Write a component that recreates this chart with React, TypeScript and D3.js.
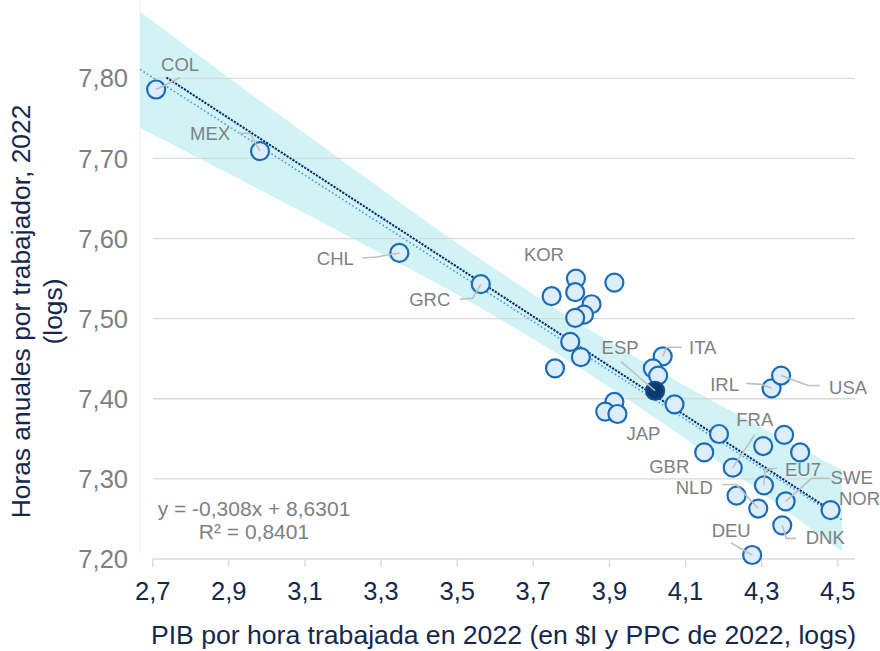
import React from "react";
import * as d3 from "d3";

// ---- data ----
const codes = [
  "COL", "MEX", "CHL", "GRC", "KOR", "", "", "", "", "", "", "", "", "",
  "ITA", "", "", "ESP", "", "", "", "JAP", "IRL", "USA", "", "GBR", "FRA",
  "", "", "", "EU7", "SWE", "NOR", "NLD", "", "DNK", "DEU",
];
const gdpPerHour = [
  2.709, 2.982, 3.348, 3.562, 3.812, 3.913, 3.748, 3.81, 3.853, 3.833, 3.81, 3.797, 3.825, 3.757,
  4.04, 4.014, 4.028, 4.02, 4.071, 3.913, 3.889, 3.921, 4.326, 4.351, 4.188, 4.149, 4.224,
  4.304, 4.359, 4.401, 4.306, 4.363, 4.481, 4.291, 4.234, 4.354, 4.275,
];
const hoursLog = [
  7.786, 7.709, 7.582, 7.543, 7.55, 7.545, 7.528, 7.533, 7.518, 7.505, 7.501, 7.471, 7.452, 7.438,
  7.453, 7.438, 7.429, 7.41, 7.393, 7.396, 7.384, 7.381, 7.413, 7.429, 7.356, 7.333, 7.314,
  7.341, 7.355, 7.333, 7.292, 7.272, 7.261, 7.263, 7.279, 7.242, 7.205,
];
const highlighted = "ESP";

// confidence band
const bandX = [2.667, 2.956, 3.245, 3.507, 3.79, 4.033, 4.296, 4.511];
const bandUpper = [7.883, 7.781, 7.681, 7.592, 7.503, 7.434, 7.365, 7.311];
const bandLower = [7.738, 7.667, 7.595, 7.528, 7.448, 7.372, 7.284, 7.209];

// trend lines (endpoints)
const trendX = [2.667, 4.511];
const trendY = [7.811, 7.249];
const fitX = [2.736, 4.481];
const fitY = [7.801, 7.261];

const xTicks = [2.7, 2.9, 3.1, 3.3, 3.5, 3.7, 3.9, 4.1, 4.3, 4.5];
const yTicks = [7.2, 7.3, 7.4, 7.5, 7.6, 7.7, 7.8];

const equationText = "y = -0,308x + 8,6301";
const r2Text = "R² = 0,8401";
const xTitle = "PIB por hora trabajada en 2022 (en $I y PPC de 2022, logs)";
const yTitle1 = "Horas anuales por trabajador, 2022";
const yTitle2 = "(logs)";

// ---- layout (label offsets in px relative to the point) ----
type Lab = { dx: number; dy: number; leader?: [number, number][] };
const labelLayout: Record<string, Lab> = {
  COL: { dx: 24, dy: -19, leader: [[24, -12], [0, 0]] },
  MEX: { dx: -50, dy: -11, leader: [[-22, -18], [-10, -18], [0, 0]] },
  CHL: { dx: -64, dy: 12, leader: [[-37, 5], [-23, 4], [0, 0]] },
  GRC: { dx: -51, dy: 22, leader: [[-21, 15], [-8, 14], [0, 0]] },
  KOR: { dx: -32, dy: -18 },
  ESP: { dx: -35, dy: -37, leader: [[-34, -29], [0, 0]] },
  ITA: { dx: 40, dy: -2, leader: [[19, -9], [4, -9], [0, 0]] },
  JAP: { dx: 26, dy: 26 },
  IRL: { dx: -47, dy: 3, leader: [[-25, -5], [-10, -4], [0, 0]] },
  USA: { dx: 67, dy: 18, leader: [[39, 10], [27, 10], [0, 0]] },
  FRA: { dx: 22, dy: -42, leader: [[22, -33], [0, 0]] },
  GBR: { dx: -35, dy: 21 },
  NLD: { dx: -64, dy: -15, leader: [[-36, -24], [-22, -24], [0, 0]] },
  EU7: { dx: 39, dy: -9, leader: [[13, -17], [1, -16], [0, 0]] },
  SWE: { dx: 66, dy: -17, leader: [[44, -23], [26, -23], [0, 0]] },
  NOR: { dx: 29, dy: -5 },
  DNK: { dx: 43, dy: 19, leader: [[14, 13], [4, 13], [0, 0]] },
  DEU: { dx: -21, dy: -18, leader: [[-21, -12], [0, 0]] },
};

const W = 880;
const H = 651;
const FONT = "Arial, 'Liberation Sans', sans-serif";
const NAVY = "#14284b";
const GRAY_TXT = "#808080";
const GRID = "#d9d9d9";

export default function App() {
  const x = d3.scaleLinear().domain([2.7, 4.5]).range([152.7, 837.8]);
  const y = d3.scaleLinear().domain([7.2, 7.8]).range([559, 78.3]);
  const xEnd = x(4.545);

  const bandData = bandX.map((v, i) => ({ x: v, u: bandUpper[i], l: bandLower[i] }));
  const area = d3
    .area<{ x: number; u: number; l: number }>()
    .x((d) => x(d.x))
    .y0((d) => y(d.l))
    .y1((d) => y(d.u))
    .curve(d3.curveMonotoneX);

  const line = d3
    .line<[number, number]>()
    .x((d) => x(d[0]))
    .y((d) => y(d[1]));

  const trendPts = trendX.map((v, i) => [v, trendY[i]] as [number, number]);
  const fitPts = fitX.map((v, i) => [v, fitY[i]] as [number, number]);

  const pts = codes.map((c, i) => ({ code: c, px: x(gdpPerHour[i]), py: y(hoursLog[i]) }));
  const normal = pts.filter((p) => p.code !== highlighted);
  const hi = pts.filter((p) => p.code === highlighted);

  const fmtX = (v: number) => d3.format(".1f")(v).replace(".", ",");
  const fmtY = (v: number) => d3.format(".2f")(v).replace(".", ",");

  return (
    <svg
      width={W}
      height={H}
      style={{ position: "absolute", left: 0, top: 0, background: "#fff" }}
      fontFamily={FONT}
    >
      <rect width={W} height={H} fill="#fff" />
      {/* faint plot border */}
      <line x1={140} x2={140} y1={0} y2={553} stroke="#f0f0f0" strokeWidth={1} />
      {/* band */}
      <path d={area(bandData) || ""} fill="#d2f3f5" />
      {/* grid */}
      {yTicks.map((t) => (
        <line key={t} x1={x(2.7)} x2={xEnd} y1={y(t)} y2={y(t)} stroke={GRID} strokeWidth={1.3} />
      ))}
      {/* x ticks */}
      {xTicks.map((t) => (
        <line key={t} x1={x(t)} x2={x(t)} y1={y(7.2)} y2={y(7.2) + 8} stroke={GRID} strokeWidth={1.3} />
      ))}
      {/* trend lines */}
      <path d={line(trendPts) || ""} fill="none" stroke="#3b9cf0" strokeWidth={1.6} strokeDasharray="1.6 2.4" />
      <path d={line(fitPts) || ""} fill="none" stroke="#002a6e" strokeWidth={2} strokeDasharray="2.2 1.3" />
      {/* points */}
      {normal.map((p, i) => (
        <circle key={i} cx={p.px} cy={p.py} r={9} fill="#dcedfb" stroke="#1b6cb8" strokeWidth={2.2} />
      ))}
      {hi.map((p, i) => (
        <circle key={"h" + i} cx={p.px} cy={p.py} r={9} fill="#0a3a70" stroke="#0f4f93" strokeWidth={2.2} />
      ))}
      {/* leaders + labels */}
      {pts.map((p, i) => {
        const lay = labelLayout[p.code];
        if (!p.code || !lay) return null;
        return (
          <g key={"l" + i}>
            {lay.leader && (
              <polyline
                points={lay.leader.map(([a, b]) => `${p.px + a},${p.py + b}`).join(" ")}
                fill="none"
                stroke="#bfbfbf"
                strokeWidth={1.6}
              />
            )}
            <text x={p.px + lay.dx} y={p.py + lay.dy} textAnchor="middle" fontSize={18.5} fill={GRAY_TXT}>
              {p.code}
            </text>
          </g>
        );
      })}
      {/* y tick labels */}
      {yTicks.map((t) => (
        <text key={t} x={128} y={y(t)} dy="0.36em" textAnchor="end" fontSize={25.5} fill={GRAY_TXT}>
          {fmtY(t)}
        </text>
      ))}
      {/* x tick labels */}
      {xTicks.map((t) => (
        <text key={t} x={x(t)} y={600} textAnchor="middle" fontSize={25.5} fill={NAVY}>
          {fmtX(t)}
        </text>
      ))}
      {/* equation */}
      <text x={254} y={516} textAnchor="middle" fontSize={21} fill={GRAY_TXT}>
        {equationText}
      </text>
      <text x={254} y={539} textAnchor="middle" fontSize={21} fill={GRAY_TXT}>
        {r2Text}
      </text>
      {/* axis titles */}
      <text x={503.5} y={644} textAnchor="middle" fontSize={26.6} fill={NAVY}>
        {xTitle}
      </text>
      <g transform="translate(29.5,311.5) rotate(-90)">
        <text x={0} y={0} textAnchor="middle" fontSize={26.4} fill={NAVY}>
          {yTitle1}
        </text>
        <text x={0} y={32.5} textAnchor="middle" fontSize={26.4} fill={NAVY}>
          {yTitle2}
        </text>
      </g>
    </svg>
  );
}
